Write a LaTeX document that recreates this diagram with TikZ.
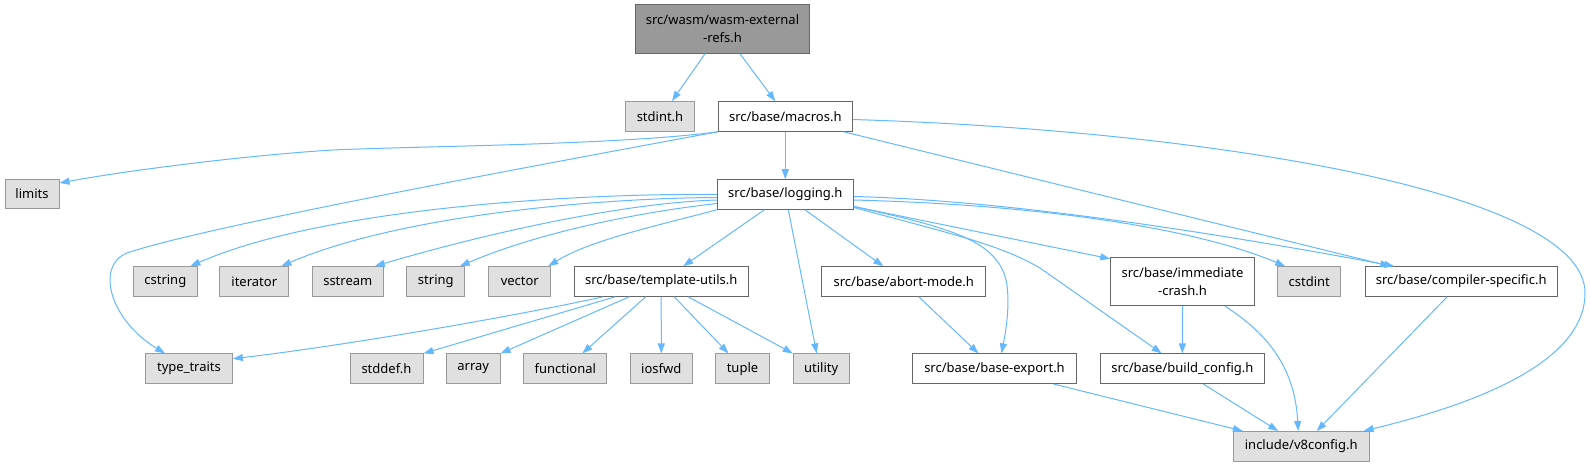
\documentclass[tikz,border=0pt]{standalone}
\usepackage{fontspec}
\setmainfont{Noto Sans}
\usetikzlibrary{arrows.meta}

\definecolor{edgeblue}{HTML}{63B8FF}
\definecolor{boxline}{HTML}{666666}
\definecolor{sysline}{HTML}{999999}
\definecolor{sysfill}{HTML}{E0E0E0}
\definecolor{rootfill}{HTML}{999999}

\begin{document}
\begin{tikzpicture}[x=1pt,y=-1pt,
  box/.style={draw=boxline, fill=white, line width=1pt, inner sep=0pt,
    minimum height=29.6pt, align=center, font=\fontsize{13}{18}\selectfont},
  sysbox/.style={box, draw=sysline, fill=sysfill},
  rootbox/.style={box, fill=rootfill},
  edge/.style={draw=edgeblue, line width=1pt, -{Triangle[length=10pt,width=7pt]}}]
\useasboundingbox (0,0) rectangle (1590,467);
% files
\node[rootbox, minimum width=173.5pt, minimum height=48.5pt] (root) at (722.5,29) {src/wasm/wasm-external\\-refs.h};
\node[sysbox, minimum width=68.7pt] (stdint) at (660,116.3) {stdint.h};
\node[box, minimum width=134pt] (macros) at (785.3,116.5) {src/base/macros.h};
\node[sysbox, minimum width=54pt] (limits) at (32,194) {limits};
\node[box, minimum width=136pt] (logging) at (785.3,194.5) {src/base/logging.h};
\node[sysbox, minimum width=64pt] (cstring) at (165.3,281.5) {cstring};
\node[sysbox, minimum width=68.7pt] (iterator) at (254.3,281.5) {iterator};
\node[sysbox, minimum width=71pt] (sstream) at (347.8,281.5) {sstream};
\node[sysbox, minimum width=57.7pt] (string) at (435.8,281.5) {string};
\node[sysbox, minimum width=61.7pt] (vector) at (519.8,281.5) {vector};
\node[box, minimum width=174.3pt] (template) at (661.2,281.5) {src/base/template-utils.h};
\node[box, minimum width=163.7pt] (abort) at (903.8,281.5) {src/base/abort-mode.h};
\node[box, minimum width=143.6pt, minimum height=48.4pt] (immediate) at (1182.5,281.5) {src/base/immediate\\-crash.h};
\node[sysbox, minimum width=63pt] (cstdint) at (1309.2,281.5) {cstdint};
\node[box, minimum width=192.3pt] (compiler) at (1461.2,281.5) {src/base/compiler-specific.h};
\node[sysbox, minimum width=86.7pt] (traits) at (189,368.7) {type\_traits};
\node[sysbox, minimum width=73pt] (stddef) at (386.5,368.7) {stddef.h};
\node[sysbox, minimum width=53.7pt] (array) at (473.2,368.7) {array};
\node[sysbox, minimum width=82.7pt] (functional) at (565.3,368.7) {functional};
\node[sysbox, minimum width=62pt] (iosfwd) at (661.3,368.7) {iosfwd};
\node[sysbox, minimum width=53.7pt] (tuple) at (742.5,368.7) {tuple};
\node[sysbox, minimum width=55.7pt] (utility) at (821.2,368.7) {utility};
\node[box, minimum width=163.6pt] (export) at (994.5,368.7) {src/base/base-export.h};
\node[box, minimum width=164pt] (buildcfg) at (1182.3,368.7) {src/base/build\_config.h};
\node[sysbox, minimum width=135.7pt] (v8config) at (1301.2,446.3) {include/v8config.h};
% includes
\draw[edge] ([xshift=-17.5pt]root.south) -- ([xshift=12pt]stdint.north);
\draw[edge] ([xshift=17.5pt]root.south) -- ([xshift=-10pt]macros.north);
\draw[edge] (macros.south west) .. controls (620,145) and (420,146) .. (333,150)
   .. controls (250,155) and (130,170) .. ([yshift=11pt]limits.east);
\draw[edge] (macros.south west) .. controls (500,172) and (200,228) .. (127,253)
   .. controls (95,266) and (110,320) .. ([xshift=-24pt]traits.north);
\draw[edge] (macros.south) -- (logging.north);
\draw[edge] ([xshift=-9pt]macros.south east) -- ([xshift=-71pt]compiler.north);
\draw[edge] ([yshift=-3pt]macros.east) .. controls (1200,130) and (1585,190) .. (1585,293)
   .. controls (1585,370) and (1450,410) .. ([xshift=-6pt]v8config.north east);
\draw[edge] (logging.west) .. controls (600,193) and (330,205) .. ([xshift=25pt]cstring.north);
\draw[edge] ([yshift=-3pt]logging.west) .. controls (600,198) and (400,215) .. ([xshift=27pt]iterator.north);
\draw[edge] ([yshift=-5.5pt]logging.west) .. controls (620,203) and (480,235) .. ([xshift=27pt]sstream.north);
\draw[edge] ([yshift=-9pt]logging.west) .. controls (640,212) and (540,232) .. ([xshift=24pt]string.north);
\draw[edge] (logging.south west) .. controls (660,225) and (590,240) .. ([xshift=28.5pt]vector.north);
\draw[edge] ([xshift=-21pt]logging.south) -- ([xshift=22pt]template.north);
\draw[edge] ([xshift=3pt]logging.south) -- ([xshift=-4.5pt]utility.north);
\draw[edge] ([xshift=19.7pt]logging.south) -- ([xshift=-20.5pt]abort.north);
\draw[edge] ([yshift=-12pt]logging.east) .. controls (950,228) and (1000,240) .. (1007,285)
   .. controls (1010,310) and (1005,335) .. ([xshift=7pt]export.north);
\draw[edge] ([yshift=-13pt]logging.east) .. controls (960,236) and (1000,245) .. (1040,268)
   -- ([xshift=-20.6pt]buildcfg.north);
\draw[edge] ([yshift=-12pt]logging.east) -- ([yshift=-2pt]immediate.north west);
\draw[edge] ([yshift=-5.5pt]logging.east) .. controls (1050,205) and (1200,230) .. ([xshift=-24pt]cstdint.north);
\draw[edge] ([yshift=-2pt]logging.east) .. controls (1000,200) and (1200,230) .. ([xshift=-67pt]compiler.north);
\draw[edge] ([xshift=-58pt]template.south) .. controls (520,315) and (350,345) .. ([yshift=10pt]traits.east);
\draw[edge] ([xshift=-46pt]template.south) -- (stddef.north east);
\draw[edge] ([xshift=-32pt]template.south) -- (array.north east);
\draw[edge] ([xshift=-15.5pt]template.south) -- ([xshift=17pt]functional.north);
\draw[edge] (template.south) -- (iosfwd.north);
\draw[edge] ([xshift=13pt]template.south) -- ([xshift=-14pt]tuple.north);
\draw[edge] ([xshift=27pt]template.south) -- (utility.north west);
\draw[edge] ([xshift=15pt]abort.south) -- ([xshift=-16pt]export.north);
\draw[edge] (immediate.south) -- (buildcfg.north);
\draw[edge] ([xshift=42.5pt]immediate.south) .. controls (1270,335) and (1295,370) .. ([xshift=-3pt]v8config.north);
\draw[edge] ([xshift=-14pt]compiler.south) -- ([xshift=15.5pt]v8config.north);
\draw[edge] ([xshift=59pt]export.south) -- ([xshift=10pt]v8config.north west);
\draw[edge] ([xshift=21pt]buildcfg.south) -- ([xshift=-23pt]v8config.north);
\end{tikzpicture}
\end{document}
